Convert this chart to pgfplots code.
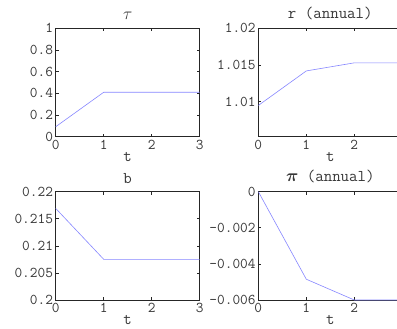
\documentclass[border=0pt]{standalone}
\usepackage{pgfplots}
\pgfplotsset{compat=1.18}
\usepackage{fontspec}
\usepackage{bm}
\definecolor{ln}{RGB}{135,135,255}
\definecolor{tx}{RGB}{55,55,55}
\pgfplotsset{
  mystyle/.style={
    scale only axis, width=144bp, height=108.4bp,
    anchor=south west,
    xmin=0, xmax=3, xtick={0,1,2,3},
    xticklabels={\texttt{0},\texttt{1},\texttt{2},\texttt{3}},
    scaled y ticks=false, scaled x ticks=false,
    tick align=inside, major tick length=3bp,
    axis line style={draw=black!85, line width=0.8bp},
    every tick/.style={black!85, line width=0.6bp},
    xticklabel style={font={\ttfamily\fontsize{15}{17}\selectfont}, text=tx, inner sep=1bp, yshift=-2bp},
    yticklabel style={font={\ttfamily\fontsize{15}{17}\selectfont}, text=tx, inner sep=1bp, xshift=-1.5bp},
    title style={font={\ttfamily\fontsize{16.5}{18}\selectfont}, text=tx, yshift=-1bp},
    xlabel={t},
    xlabel style={font={\ttfamily\fontsize{16.5}{18}\selectfont}, text=tx, yshift=1.5bp},
  }
}
\begin{document}
\begin{tikzpicture}
\useasboundingbox (0,0) rectangle (397bp,-329bp);
\clip (0,0) rectangle (397bp,-329bp);
\fill[white] (0,0) rectangle (397bp,-329bp);
% top-left tau
\begin{axis}[mystyle, at={(55.7bp,-136.7bp)}, title={$\tau$},
  ymin=0, ymax=1, ytick={0,0.2,0.4,0.6,0.8,1},
  yticklabels={\texttt{0},\texttt{0.2},\texttt{0.4},\texttt{0.6},\texttt{0.8},\texttt{1}}]
\addplot[color=ln, line width=0.6bp] coordinates {(0,0.092) (1,0.41) (2,0.41) (3,0.41)};
\end{axis}
% top-right r
\begin{axis}[mystyle, at={(258.3bp,-136.7bp)}, title={r (annual)},
  ymin=1.00525, ymax=1.02, ytick={1.01,1.015,1.02},
  yticklabels={\texttt{1.01},\texttt{1.015},\texttt{1.02}}]
\addplot[color=ln, line width=0.6bp] coordinates {(0,1.0095) (1,1.0142) (2,1.0153) (3,1.0153)};
\end{axis}
% bottom-left b
\begin{axis}[mystyle, at={(55.7bp,-300bp)}, title={b},
  ymin=0.2, ymax=0.22, ytick={0.2,0.205,0.21,0.215,0.22},
  yticklabels={\texttt{0.2},\texttt{0.205},\texttt{0.21},\texttt{0.215},\texttt{0.22}}]
\addplot[color=ln, line width=0.6bp] coordinates {(0,0.2169) (1,0.20751) (2,0.20751) (3,0.20751)};
\end{axis}
% bottom-right pi
\begin{axis}[mystyle, at={(258.3bp,-300bp)}, title={$\bm{\pi}$ (annual)},
  ymin=-0.006, ymax=0, ytick={-0.006,-0.004,-0.002,0},
  yticklabels={\texttt{-0.006},\texttt{-0.004},\texttt{-0.002},\texttt{0}}]
\addplot[color=ln, line width=0.6bp] coordinates {(0,0) (1,-0.00485) (2,-0.006) (3,-0.006)};
\end{axis}
\end{tikzpicture}
\end{document}
